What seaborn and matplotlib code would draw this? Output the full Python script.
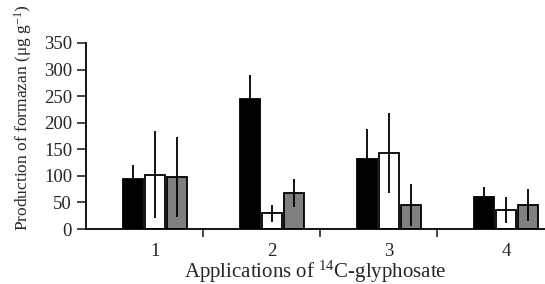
import matplotlib
matplotlib.use("Agg")
import matplotlib.pyplot as plt
import pandas as pd
import seaborn as sns

# ==========================
# DADOS
# ==========================

applications = ["1", "2", "3", "4"]
treatments = ["A", "B", "C"]

black_mean = [94, 245, 132, 60]
white_mean = [102, 30, 143, 36]
gray_mean = [98, 68, 45, 45]

black_err = [26, 45, 56, 19]
white_err = [82, 16, 76, 24]
gray_err = [76, 27, 39, 30]

y_ticks = [0, 50, 100, 150, 200, 250, 300, 350]

# ==========================
# ESTILO
# ==========================

sns.set_style("ticks")
plt.rcParams["font.family"] = ["Liberation Serif", "DejaVu Serif"]
plt.rcParams["mathtext.fontset"] = "custom"
plt.rcParams["mathtext.rm"] = "Liberation Serif"
plt.rcParams["mathtext.it"] = "Liberation Serif:italic"

rows = []
for i, app in enumerate(applications):
    rows.append({"application": app, "treatment": "A", "formazan": black_mean[i]})
    rows.append({"application": app, "treatment": "B", "formazan": white_mean[i]})
    rows.append({"application": app, "treatment": "C", "formazan": gray_mean[i]})
df = pd.DataFrame(rows)

fig = plt.figure(figsize=(5.45, 2.84), dpi=100)
ax = fig.add_axes([86 / 545, 1 - 229 / 284, 459 / 545, 186 / 284])

sns.barplot(
    data=df,
    x="application",
    y="formazan",
    hue="treatment",
    hue_order=treatments,
    order=applications,
    palette=["black", "white", "#808080"],
    errorbar=None,
    width=0.56,
    gap=0.06,
    edgecolor="black",
    linewidth=1.3,
    legend=False,
    ax=ax,
)

# barras de erro desenhadas sobre as colunas
errs = {"A": black_err, "B": white_err, "C": gray_err}
for cont, trat in zip(ax.containers, treatments):
    for bar, e in zip(cont, errs[trat]):
        xc = bar.get_x() + bar.get_width() / 2
        ax.errorbar(xc, bar.get_height(), yerr=e, fmt="none",
                    ecolor="black", elinewidth=1.3, capsize=0, zorder=5)

x0 = -0.59
ax.set_xlim(x0, x0 + 459 / 117)
ax.set_ylim(0, 350)
ax.set_yticks(y_ticks)

ax.set_xticks(range(len(applications)))
ax.set_xticklabels(applications)
ax.tick_params(axis="x", which="major", length=0, pad=10, labelsize=13.5)
ax.set_xticks([x0 + k for k in range(1, 4)], minor=True)
ax.tick_params(axis="x", which="minor", length=6, width=1.2, direction="out")
ax.tick_params(axis="y", length=6.5, width=1.2, labelsize=13.5, pad=3.5)

for s in ["top", "right"]:
    ax.spines[s].set_visible(False)
for s in ["left", "bottom"]:
    ax.spines[s].set_linewidth(1.3)
    ax.spines[s].set_color("black")

ax.set_xlabel("Applications of $^{14}$C-glyphosate", fontsize=15, va="baseline")
ax.xaxis.set_label_coords(0.5, (229 - 278) / 186)
ax.set_ylabel("Production of formazan (μg g$^{-1}$)", fontsize=12.5, va="baseline")
ax.yaxis.set_label_coords((28 - 86) / 459, (229 - 118) / 186)

fig.savefig("out.png", dpi=100)
